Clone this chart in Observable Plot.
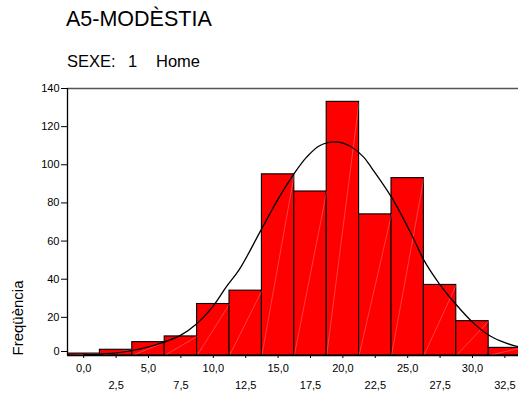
<!DOCTYPE html>
<html>
<head>
<meta charset="utf-8">
<script src="https://cdn.jsdelivr.net/npm/d3@7"></script>
<script src="https://cdn.jsdelivr.net/npm/@observablehq/plot@0.6"></script>
<style>
  html, body { margin: 0; padding: 0; background: #fff; }
  #wrap { position: relative; width: 518px; height: 396px; overflow: hidden; font-family: "Liberation Sans", Arial, sans-serif; }
  .title { position: absolute; left: 66px; top: 9px; font-size: 21.5px; color: #000; white-space: pre; line-height: 1; }
  .sub { position: absolute; top: 53px; font-size: 16.5px; color: #000; white-space: pre; line-height: 1; }
  #chart { position: absolute; left: 0; top: 0; }
</style>
</head>
<body>
<div id="wrap">
  <div id="chart"></div>
  <div class="title">A5-MODÈSTIA</div>
  <div class="sub" style="left:67px">SEXE:</div>
  <div class="sub" style="left:128px">1</div>
  <div class="sub" style="left:156px">Home</div>
</div>
<script>
// Bin centres (width 2.5) and frequencies
const binCenters = [0, 2.5, 5, 7.5, 10, 12.5, 15, 17.5, 20, 22.5, 25, 27.5, 30, 32.5];
const counts     = [1, 3, 7, 10, 27, 34, 95, 86, 133, 74, 93, 37, 18, 4];
const binWidth = 2.5;

// Normal curve points
const curveX = [0, 1.5, 2.5, 3.7, 5, 5.9, 7.5, 8.7, 10, 11, 12, 13.7, 15, 16.2, 17.2, 18.2, 19.4, 20.5, 21.6, 22.1, 23.75, 25.4, 26.25, 27.4, 28.7, 30, 31.3, 32.6, 33.6];
const curveY = [0.4, 0.9, 1.4, 2.6, 4.5, 6.3, 10.7, 16.5, 26, 36, 45, 66, 82, 95, 104, 110, 112, 110, 104, 99.5, 83, 62, 50, 38, 27, 17.5, 10.5, 6.5, 4.5];

// Axis ticks
const yTicks = [20, 40, 60, 80, 100, 120, 140];
const yTickZero = [0];
const xTicksAll = binCenters;
const xTicksRow1 = [0, 5, 10, 15, 20, 25, 30];
const xTicksRow2 = [2.5, 7.5, 12.5, 17.5, 22.5, 27.5, 32.5];

const bins = binCenters.map((c, i) => ({x1: c - binWidth / 2, x2: c + binWidth / 2, y: counts[i]}));
const curve = curveX.map((x, i) => ({x, y: curveY[i]}));
const fmt = d => d.toFixed(1).replace(".", ",");

const xMin = -1.25, xMax = 33.55;

const chart = Plot.plot({
  width: 518,
  height: 396,
  marginLeft: 67,
  marginRight: 0,
  marginTop: 88,
  marginBottom: 41,
  style: {fontFamily: "Liberation Sans, Arial, sans-serif", fontSize: "11px", color: "#000", background: "#fff"},
  x: {type: "linear", domain: [xMin, xMax]},
  y: {domain: [0, 140]},
  marks: [
    Plot.rectY(bins, {x1: "x1", x2: "x2", y: "y", fill: "#ff0000", stroke: "#000", strokeWidth: 1.1, inset: 0, clip: true}),
    Plot.link(bins, {x1: "x1", y1: 0, x2: "x2", y2: "y", stroke: "#fff", strokeOpacity: 0.35, strokeWidth: 0.7, clip: true}),
    Plot.line(curve, {x: "x", y: "y", stroke: "#000", strokeWidth: 1.3, curve: "catmull-rom", clip: true}),
    Plot.ruleY([140], {stroke: "#555", strokeWidth: 1.5}),
    Plot.ruleY([0], {stroke: "#000", strokeWidth: 1.3}),
    Plot.ruleX([xMin], {stroke: "#000", strokeWidth: 1.3}),
    Plot.axisY({ticks: yTicks, tickSize: 6, tickPadding: 2, fontSize: 11, label: null}),
    Plot.axisY({ticks: yTickZero, tickSize: 6, tickPadding: 2, fontSize: 11, dy: -4, label: null}),
    Plot.axisX({ticks: xTicksAll, tickSize: 3, tickFormat: () => "", label: null}),
    Plot.axisX({ticks: xTicksRow1, tickSize: 0, tickPadding: 9, tickFormat: fmt, fontSize: 11, label: null}),
    Plot.axisX({ticks: xTicksRow2, tickSize: 0, tickPadding: 26, tickFormat: fmt, fontSize: 11, label: null}),
    Plot.text(["Freqüència"], {frameAnchor: "bottom-left", dx: -45, dy: 0, rotate: -90, textAnchor: "start", lineAnchor: "bottom", fontSize: 15})
  ]
});
document.getElementById("chart").appendChild(chart);
</script>
</body>
</html>
